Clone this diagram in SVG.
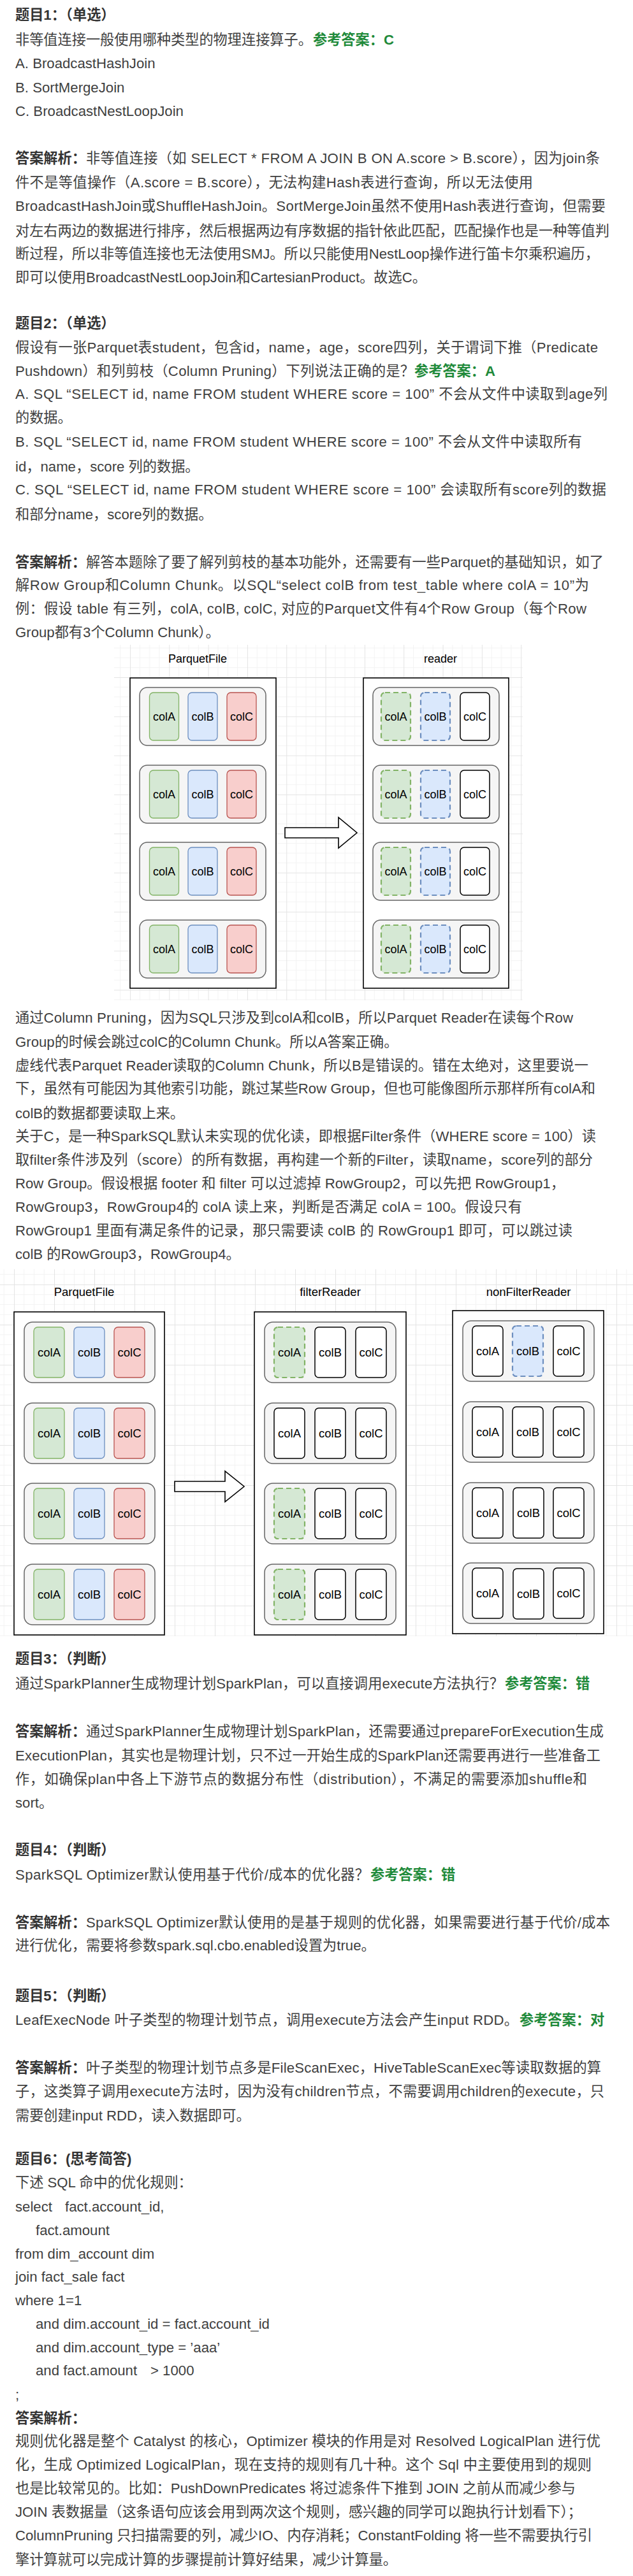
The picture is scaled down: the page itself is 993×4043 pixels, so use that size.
<svg xmlns="http://www.w3.org/2000/svg" width="993" height="4043" viewBox="0 0 993 4043">
<style>
.t{font-family:'Liberation Sans','Noto Sans CJK SC',sans-serif;font-size:22.2px;fill:#3f3f3f}
.b{font-weight:bold;fill:#333}
.g{font-weight:bold;fill:#1f8a3a}
.lbl{font-family:'Liberation Sans','Noto Sans CJK SC',sans-serif;font-size:18px;fill:#000;text-anchor:middle}
.lbl2{font-family:'Liberation Sans','Noto Sans CJK SC',sans-serif;font-size:18.5px;fill:#000;text-anchor:middle}
.box{fill:#fff;stroke:#000;stroke-width:1.6}
.grp{fill:#f5f5f5;stroke:#666;stroke-width:1.5}
.cg{fill:#d5e8d4;stroke:#82b366;stroke-width:1.3}
.cb{fill:#dae8fc;stroke:#6c8ebf;stroke-width:1.3}
.cr{fill:#f8cecc;stroke:#b85450;stroke-width:1.3}
.cw{fill:#fff;stroke:#000;stroke-width:1.5}
.dg{fill:#d5e8d4;stroke:#82b366;stroke-width:2.2;stroke-dasharray:8 5}
.db{fill:#dae8fc;stroke:#6c8ebf;stroke-width:2.2;stroke-dasharray:8 5}
.arrow{fill:#fff;stroke:#000;stroke-width:1.6;stroke-linejoin:miter}
</style>
<defs>
<pattern id="grid1" patternUnits="userSpaceOnUse" x="204" y="1063" width="61.32" height="61.32">
<path d="M15.33 0V61.32M30.66 0V61.32M45.99 0V61.32M0 15.33H61.32M0 30.66H61.32M0 45.99H61.32" stroke="#f3f3f3" stroke-width="1" fill="none"/>
<path d="M0.5 0V61.32M0 0.5H61.32" stroke="#e4e4e4" stroke-width="1" fill="none"/>
</pattern>
<pattern id="grid2" patternUnits="userSpaceOnUse" x="22" y="2016" width="63" height="63">
<path d="M15.75 0V63M31.5 0V63M47.25 0V63M0 15.75H63M0 31.5H63M0 47.25H63" stroke="#f3f3f3" stroke-width="1" fill="none"/>
<path d="M0.5 0V63M0 0.5H63" stroke="#e4e4e4" stroke-width="1" fill="none"/>
</pattern>
</defs>
<rect width="993" height="4043" fill="#fff"/>

<g id="text-q1">
<text class="t b" x="24" y="31">题目1：（单选）</text>
<text class="t" x="24" y="70">非等值连接一般使用哪种类型的物理连接算子。</text>
<text class="t g" x="491" y="70">参考答案：C</text>
<text class="t" x="24" y="107">A. BroadcastHashJoin</text>
<text class="t" x="24" y="145">B. SortMergeJoin</text>
<text class="t" x="24" y="182">C. BroadcastNestLoopJoin</text>
<text class="t b" x="24" y="256">答案解析：</text>
<text class="t" x="135" y="256" textLength="806" lengthAdjust="spacing">非等值连接（如 SELECT * FROM A JOIN B ON A.score &gt; B.score），因为join条</text>
<text class="t" x="24" y="294" textLength="812" lengthAdjust="spacing">件不是等值操作（A.score = B.score），无法构建Hash表进行查询，所以无法使用</text>
<text class="t" x="24" y="331" textLength="926" lengthAdjust="spacing">BroadcastHashJoin或ShuffleHashJoin。SortMergeJoin虽然不使用Hash表进行查询，但需要</text>
<text class="t" x="24" y="370">对左右两边的数据进行排序，然后根据两边有序数据的指针依此匹配，匹配操作也是一种等值判</text>
<text class="t" x="24" y="406">断过程，所以非等值连接也无法使用SMJ。所以只能使用NestLoop操作进行笛卡尔乘积遍历，</text>
<text class="t" x="24" y="443">即可以使用BroadcastNestLoopJoin和CartesianProduct。故选C。</text>
</g>

<g id="text-q2">
<text class="t b" x="24" y="515">题目2：（单选）</text>
<text class="t" x="24" y="553" textLength="914" lengthAdjust="spacing">假设有一张Parquet表student，包含id，name，age，score四列，关于谓词下推（Predicate</text>
<text class="t" x="24" y="590" textLength="626" lengthAdjust="spacing">Pushdown）和列剪枝（Column Pruning）下列说法正确的是？</text>
<text class="t g" x="650" y="590">参考答案：A</text>
<text class="t" x="24" y="626" textLength="929" lengthAdjust="spacing">A. SQL “SELECT id, name FROM student WHERE score = 100” 不会从文件中读取到age列</text>
<text class="t" x="24" y="663">的数据。</text>
<text class="t" x="24" y="701" textLength="889" lengthAdjust="spacing">B. SQL “SELECT id, name FROM student WHERE score = 100” 不会从文件中读取所有</text>
<text class="t" x="24" y="740">id，name，score 列的数据。</text>
<text class="t" x="24" y="776" textLength="927" lengthAdjust="spacing">C. SQL “SELECT id, name FROM student WHERE score = 100” 会读取所有score列的数据</text>
<text class="t" x="24" y="815">和部分name，score列的数据。</text>
<text class="t b" x="24" y="890">答案解析：</text>
<text class="t" x="135" y="890" textLength="812" lengthAdjust="spacing">解答本题除了要了解列剪枝的基本功能外，还需要有一些Parquet的基础知识，如了</text>
<text class="t" x="24" y="926" textLength="900" lengthAdjust="spacing">解Row Group和Column Chunk。以SQL“select colB from test_table where colA = 10”为</text>
<text class="t" x="24" y="963" textLength="896" lengthAdjust="spacing">例：假设 table 有三列，colA, colB, colC, 对应的Parquet文件有4个Row Group（每个Row</text>
<text class="t" x="24" y="1000">Group都有3个Column Chunk）。</text>
</g>

<rect id="grid-bg-1" x="179" y="1012" width="641" height="558" fill="url(#grid1)"/>

<g id="diagram1-parquetfile">
<text class="lbl" x="310" y="1040">ParquetFile</text>
<rect class="box" x="204" y="1064" width="229" height="487"/>
<g id="d1-pf-rg1">
<rect class="grp" x="219" y="1079" width="198" height="91" rx="12"/>
<rect class="cg" x="234.5" y="1087" width="46" height="75" rx="6"/><text class="lbl" x="257.5" y="1131">colA</text>
<rect class="cb" x="295" y="1087" width="46" height="75" rx="6"/><text class="lbl" x="318" y="1131">colB</text>
<rect class="cr" x="356" y="1087" width="46" height="75" rx="6"/><text class="lbl" x="379" y="1131">colC</text>
</g>
<g id="d1-pf-rg2">
<rect class="grp" x="219" y="1201" width="198" height="91" rx="12"/>
<rect class="cg" x="234.5" y="1209" width="46" height="75" rx="6"/><text class="lbl" x="257.5" y="1253">colA</text>
<rect class="cb" x="295" y="1209" width="46" height="75" rx="6"/><text class="lbl" x="318" y="1253">colB</text>
<rect class="cr" x="356" y="1209" width="46" height="75" rx="6"/><text class="lbl" x="379" y="1253">colC</text>
</g>
<g id="d1-pf-rg3">
<rect class="grp" x="219" y="1322" width="198" height="91" rx="12"/>
<rect class="cg" x="234.5" y="1330" width="46" height="75" rx="6"/><text class="lbl" x="257.5" y="1374">colA</text>
<rect class="cb" x="295" y="1330" width="46" height="75" rx="6"/><text class="lbl" x="318" y="1374">colB</text>
<rect class="cr" x="356" y="1330" width="46" height="75" rx="6"/><text class="lbl" x="379" y="1374">colC</text>
</g>
<g id="d1-pf-rg4">
<rect class="grp" x="219" y="1444" width="198" height="91" rx="12"/>
<rect class="cg" x="234.5" y="1452" width="46" height="75" rx="6"/><text class="lbl" x="257.5" y="1496">colA</text>
<rect class="cb" x="295" y="1452" width="46" height="75" rx="6"/><text class="lbl" x="318" y="1496">colB</text>
<rect class="cr" x="356" y="1452" width="46" height="75" rx="6"/><text class="lbl" x="379" y="1496">colC</text>
</g>
</g>

<g id="diagram1-reader">
<text class="lbl" x="691" y="1040">reader</text>
<rect class="box" x="570" y="1064" width="228" height="487"/>
<g id="d1-rd-rg1">
<rect class="grp" x="585" y="1079" width="198" height="91" rx="12"/>
<rect class="dg" x="598" y="1087" width="46" height="75" rx="6"/><text class="lbl" x="621" y="1131">colA</text>
<rect class="db" x="660" y="1087" width="46" height="75" rx="6"/><text class="lbl" x="683" y="1131">colB</text>
<rect class="cw" x="722" y="1087" width="46" height="75" rx="6"/><text class="lbl" x="745" y="1131">colC</text>
</g>
<g id="d1-rd-rg2">
<rect class="grp" x="585" y="1201" width="198" height="91" rx="12"/>
<rect class="dg" x="598" y="1209" width="46" height="75" rx="6"/><text class="lbl" x="621" y="1253">colA</text>
<rect class="db" x="660" y="1209" width="46" height="75" rx="6"/><text class="lbl" x="683" y="1253">colB</text>
<rect class="cw" x="722" y="1209" width="46" height="75" rx="6"/><text class="lbl" x="745" y="1253">colC</text>
</g>
<g id="d1-rd-rg3">
<rect class="grp" x="585" y="1322" width="198" height="91" rx="12"/>
<rect class="dg" x="598" y="1330" width="46" height="75" rx="6"/><text class="lbl" x="621" y="1374">colA</text>
<rect class="db" x="660" y="1330" width="46" height="75" rx="6"/><text class="lbl" x="683" y="1374">colB</text>
<rect class="cw" x="722" y="1330" width="46" height="75" rx="6"/><text class="lbl" x="745" y="1374">colC</text>
</g>
<g id="d1-rd-rg4">
<rect class="grp" x="585" y="1444" width="198" height="91" rx="12"/>
<rect class="dg" x="598" y="1452" width="46" height="75" rx="6"/><text class="lbl" x="621" y="1496">colA</text>
<rect class="db" x="660" y="1452" width="46" height="75" rx="6"/><text class="lbl" x="683" y="1496">colB</text>
<rect class="cw" x="722" y="1452" width="46" height="75" rx="6"/><text class="lbl" x="745" y="1496">colC</text>
</g>
</g>

<g id="text-q2-analysis">
<text class="t" x="24" y="1605" textLength="875" lengthAdjust="spacing">通过Column Pruning，因为SQL只涉及到colA和colB，所以Parquet Reader在读每个Row</text>
<text class="t" x="24" y="1643">Group的时候会跳过colC的Column Chunk。所以A答案正确。</text>
<text class="t" x="24" y="1680" textLength="899" lengthAdjust="spacing">虚线代表Parquet Reader读取的Column Chunk，所以B是错误的。错在太绝对，这里要说一</text>
<text class="t" x="24" y="1716" textLength="910" lengthAdjust="spacing">下，虽然有可能因为其他索引功能，跳过某些Row Group，但也可能像图所示那样所有colA和</text>
<text class="t" x="24" y="1755">colB的数据都要读取上来。</text>
<text class="t" x="24" y="1791" textLength="911" lengthAdjust="spacing">关于C，是一种SparkSQL默认未实现的优化读，即根据Filter条件（WHERE score = 100）读</text>
<text class="t" x="24" y="1828" textLength="906" lengthAdjust="spacing">取filter条件涉及列（score）的所有数据，再构建一个新的Filter，读取name，score列的部分</text>
<text class="t" x="24" y="1865">Row Group。假设根据 footer 和 filter 可以过滤掉 RowGroup2，可以先把 RowGroup1，</text>
<text class="t" x="24" y="1902" textLength="795" lengthAdjust="spacing">RowGroup3，RowGroup4的 colA 读上来，判断是否满足 colA = 100。假设只有</text>
<text class="t" x="24" y="1939" textLength="874" lengthAdjust="spacing">RowGroup1 里面有满足条件的记录，那只需要读 colB 的 RowGroup1 即可，可以跳过读</text>
<text class="t" x="24" y="1976">colB 的RowGroup3，RowGroup4。</text>
</g>

<rect id="grid-bg-2" x="0" y="1992" width="993" height="576" fill="url(#grid2)"/>

<g id="diagram2-parquetfile">
<text class="lbl2" x="132" y="2034">ParquetFile</text>
<rect class="box" x="22" y="2059" width="236" height="507"/>
<g id="d2-pf-rg1">
<rect class="grp" x="38" y="2075" width="205" height="95" rx="13"/>
<rect class="cg" x="53" y="2083" width="48" height="79" rx="6"/><text class="lbl2" x="77" y="2129">colA</text>
<rect class="cb" x="116" y="2083" width="48" height="79" rx="6"/><text class="lbl2" x="140" y="2129">colB</text>
<rect class="cr" x="179" y="2083" width="48" height="79" rx="6"/><text class="lbl2" x="203" y="2129">colC</text>
</g>
<g id="d2-pf-rg2">
<rect class="grp" x="38" y="2202" width="205" height="95" rx="13"/>
<rect class="cg" x="53" y="2210" width="48" height="79" rx="6"/><text class="lbl2" x="77" y="2256">colA</text>
<rect class="cb" x="116" y="2210" width="48" height="79" rx="6"/><text class="lbl2" x="140" y="2256">colB</text>
<rect class="cr" x="179" y="2210" width="48" height="79" rx="6"/><text class="lbl2" x="203" y="2256">colC</text>
</g>
<g id="d2-pf-rg3">
<rect class="grp" x="38" y="2328" width="205" height="95" rx="13"/>
<rect class="cg" x="53" y="2336" width="48" height="79" rx="6"/><text class="lbl2" x="77" y="2382">colA</text>
<rect class="cb" x="116" y="2336" width="48" height="79" rx="6"/><text class="lbl2" x="140" y="2382">colB</text>
<rect class="cr" x="179" y="2336" width="48" height="79" rx="6"/><text class="lbl2" x="203" y="2382">colC</text>
</g>
<g id="d2-pf-rg4">
<rect class="grp" x="38" y="2455" width="205" height="95" rx="13"/>
<rect class="cg" x="53" y="2463" width="48" height="79" rx="6"/><text class="lbl2" x="77" y="2509">colA</text>
<rect class="cb" x="116" y="2463" width="48" height="79" rx="6"/><text class="lbl2" x="140" y="2509">colB</text>
<rect class="cr" x="179" y="2463" width="48" height="79" rx="6"/><text class="lbl2" x="203" y="2509">colC</text>
</g>
</g>

<g id="diagram2-filterreader">
<text class="lbl2" x="518" y="2034">filterReader</text>
<rect class="box" x="399" y="2059" width="238" height="507"/>
<g id="d2-fr-rg1">
<rect class="grp" x="415" y="2075" width="206" height="95" rx="13"/>
<rect class="dg" x="430" y="2083" width="48" height="79" rx="6"/><text class="lbl2" x="454" y="2129">colA</text>
<rect class="cw" x="494" y="2083" width="48" height="79" rx="6"/><text class="lbl2" x="518" y="2129">colB</text>
<rect class="cw" x="558" y="2083" width="48" height="79" rx="6"/><text class="lbl2" x="582" y="2129">colC</text>
</g>
<g id="d2-fr-rg2">
<rect class="grp" x="415" y="2202" width="206" height="95" rx="13"/>
<rect class="cw" x="430" y="2210" width="48" height="79" rx="6"/><text class="lbl2" x="454" y="2256">colA</text>
<rect class="cw" x="494" y="2210" width="48" height="79" rx="6"/><text class="lbl2" x="518" y="2256">colB</text>
<rect class="cw" x="558" y="2210" width="48" height="79" rx="6"/><text class="lbl2" x="582" y="2256">colC</text>
</g>
<g id="d2-fr-rg3">
<rect class="grp" x="415" y="2328" width="206" height="95" rx="13"/>
<rect class="dg" x="430" y="2336" width="48" height="79" rx="6"/><text class="lbl2" x="454" y="2382">colA</text>
<rect class="cw" x="494" y="2336" width="48" height="79" rx="6"/><text class="lbl2" x="518" y="2382">colB</text>
<rect class="cw" x="558" y="2336" width="48" height="79" rx="6"/><text class="lbl2" x="582" y="2382">colC</text>
</g>
<g id="d2-fr-rg4">
<rect class="grp" x="415" y="2455" width="206" height="95" rx="13"/>
<rect class="dg" x="430" y="2463" width="48" height="79" rx="6"/><text class="lbl2" x="454" y="2509">colA</text>
<rect class="cw" x="494" y="2463" width="48" height="79" rx="6"/><text class="lbl2" x="518" y="2509">colB</text>
<rect class="cw" x="558" y="2463" width="48" height="79" rx="6"/><text class="lbl2" x="582" y="2509">colC</text>
</g>
</g>

<g id="diagram2-nonfilterreader">
<text class="lbl2" x="829" y="2034">nonFilterReader</text>
<rect class="box" x="710" y="2057" width="237" height="507"/>
<g id="d2-nf-rg1">
<rect class="grp" x="726" y="2073" width="206" height="95" rx="13"/>
<rect class="cw" x="741" y="2081" width="48" height="79" rx="6"/><text class="lbl2" x="765" y="2127">colA</text>
<rect class="db" x="804" y="2081" width="48" height="79" rx="6"/><text class="lbl2" x="828" y="2127">colB</text>
<rect class="cw" x="868" y="2081" width="48" height="79" rx="6"/><text class="lbl2" x="892" y="2127">colC</text>
</g>
<g id="d2-nf-rg2">
<rect class="grp" x="726" y="2200" width="206" height="95" rx="13"/>
<rect class="cw" x="741" y="2208" width="48" height="79" rx="6"/><text class="lbl2" x="765" y="2254">colA</text>
<rect class="cw" x="804" y="2208" width="48" height="79" rx="6"/><text class="lbl2" x="828" y="2254">colB</text>
<rect class="cw" x="868" y="2208" width="48" height="79" rx="6"/><text class="lbl2" x="892" y="2254">colC</text>
</g>
<g id="d2-nf-rg3">
<rect class="grp" x="726" y="2327" width="206" height="95" rx="13"/>
<rect class="cw" x="741" y="2335" width="48" height="79" rx="6"/><text class="lbl2" x="765" y="2381">colA</text>
<rect class="cw" x="805" y="2335" width="48" height="79" rx="6"/><text class="lbl2" x="829" y="2381">colB</text>
<rect class="cw" x="868" y="2335" width="48" height="79" rx="6"/><text class="lbl2" x="892" y="2381">colC</text>
</g>
<g id="d2-nf-rg4">
<rect class="grp" x="726" y="2453" width="206" height="95" rx="13"/>
<rect class="cw" x="741" y="2461" width="48" height="79" rx="6"/><text class="lbl2" x="765" y="2507">colA</text>
<rect class="cw" x="805" y="2462" width="48" height="79" rx="6"/><text class="lbl2" x="829" y="2508">colB</text>
<rect class="cw" x="868" y="2461" width="48" height="79" rx="6"/><text class="lbl2" x="892" y="2507">colC</text>
</g>
</g>

<g id="connectors">
<polygon id="arrow-1" class="arrow" points="447,1299 531,1299 531,1283 560,1307 531,1331 531,1315 447,1315"/>
<polygon id="arrow-2" class="arrow" points="274,2325 353,2325 353,2309 383,2333 353,2357 353,2341 274,2341"/>
</g>

<g id="text-q3">
<text class="t b" x="24" y="2611">题目3：（判断）</text>
<text class="t" x="24" y="2650" textLength="766" lengthAdjust="spacing">通过SparkPlanner生成物理计划SparkPlan，可以直接调用execute方法执行？</text>
<text class="t g" x="792" y="2650">参考答案：错</text>
<text class="t b" x="24" y="2725">答案解析：</text>
<text class="t" x="135" y="2725" textLength="812" lengthAdjust="spacing">通过SparkPlanner生成物理计划SparkPlan，还需要通过prepareForExecution生成</text>
<text class="t" x="24" y="2763" textLength="918" lengthAdjust="spacing">ExecutionPlan，其实也是物理计划，只不过一开始生成的SparkPlan还需要再进行一些准备工</text>
<text class="t" x="24" y="2800" textLength="897" lengthAdjust="spacing">作，如确保plan中各上下游节点的数据分布性（distribution），不满足的需要添加shuffle和</text>
<text class="t" x="24" y="2837">sort。</text>
</g>

<g id="text-q4">
<text class="t b" x="24" y="2911">题目4：（判断）</text>
<text class="t" x="24" y="2950" textLength="555" lengthAdjust="spacing">SparkSQL Optimizer默认使用基于代价/成本的优化器？</text>
<text class="t g" x="581" y="2950">参考答案：错</text>
<text class="t b" x="24" y="3025">答案解析：</text>
<text class="t" x="135" y="3025" textLength="822" lengthAdjust="spacing">SparkSQL Optimizer默认使用的是基于规则的优化器，如果需要进行基于代价/成本</text>
<text class="t" x="24" y="3061">进行优化，需要将参数spark.sql.cbo.enabled设置为true。</text>
</g>

<g id="text-q5">
<text class="t b" x="24" y="3140">题目5：（判断）</text>
<text class="t" x="24" y="3178" textLength="789" lengthAdjust="spacing">LeafExecNode 叶子类型的物理计划节点，调用execute方法会产生input RDD。</text>
<text class="t g" x="815" y="3178">参考答案：对</text>
<text class="t b" x="24" y="3253">答案解析：</text>
<text class="t" x="135" y="3253" textLength="808" lengthAdjust="spacing">叶子类型的物理计划节点多是FileScanExec，HiveTableScanExec等读取数据的算</text>
<text class="t" x="24" y="3290" textLength="924" lengthAdjust="spacing">子，这类算子调用execute方法时，因为没有children节点，不需要调用children的execute，只</text>
<text class="t" x="24" y="3328">需要创建input RDD，读入数据即可。</text>
</g>

<g id="text-q6">
<text class="t b" x="24" y="3396">题目6：(思考简答)</text>
<text class="t" x="24" y="3433">下述 SQL 命中的优化规则：</text>
<text class="t" x="24" y="3471">select<tspan x="102">fact.account_id,</tspan></text>
<text class="t" x="56" y="3508">fact.amount</text>
<text class="t" x="24" y="3545">from dim_account dim</text>
<text class="t" x="24" y="3581">join fact_sale fact</text>
<text class="t" x="24" y="3618">where 1=1</text>
<text class="t" x="56" y="3655">and dim.account_id = fact.account_id</text>
<text class="t" x="56" y="3692">and dim.account_type = ’aaa’</text>
<text class="t" x="56" y="3728">and fact.amount<tspan x="236">&gt; 1000</tspan></text>
<text class="t" x="24" y="3766">;</text>
<text class="t b" x="24" y="3803">答案解析：</text>
<text class="t" x="24" y="3839" textLength="918" lengthAdjust="spacing">规则优化器是整个 Catalyst 的核心，Optimizer 模块的作用是对 Resolved LogicalPlan 进行优</text>
<text class="t" x="24" y="3876" textLength="904" lengthAdjust="spacing">化，生成 Optimized LogicalPlan，现在支持的规则有几十种。这个 Sql 中主要使用到的规则</text>
<text class="t" x="24" y="3913" textLength="879" lengthAdjust="spacing">也是比较常见的。比如：PushDownPredicates 将过滤条件下推到 JOIN 之前从而减少参与</text>
<text class="t" x="24" y="3950">JOIN 表数据量（这条语句应该会用到两次这个规则，感兴趣的同学可以跑执行计划看下）；</text>
<text class="t" x="24" y="3987" textLength="905" lengthAdjust="spacing">ColumnPruning 只扫描需要的列，减少IO、内存消耗；ConstantFolding 将一些不需要执行引</text>
<text class="t" x="24" y="4025">擎计算就可以完成计算的步骤提前计算好结果，减少计算量。</text>
</g>
</svg>
